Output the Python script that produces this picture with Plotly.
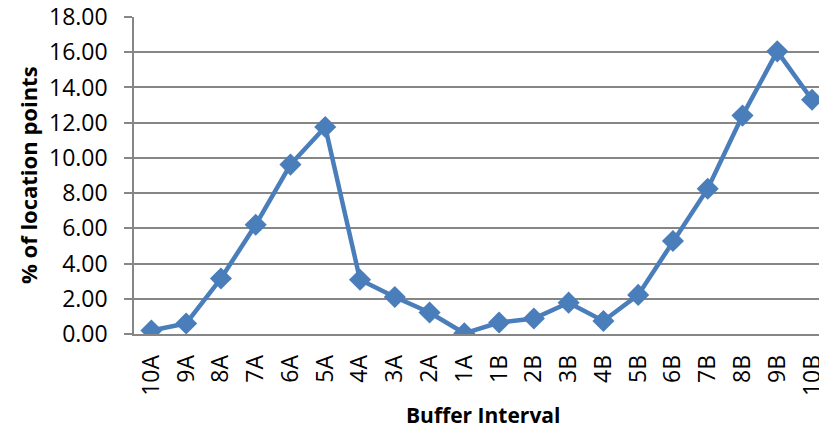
import plotly.graph_objects as go

categories = ["10A", "9A", "8A", "7A", "6A", "5A", "4A", "3A", "2A", "1A",
              "1B", "2B", "3B", "4B", "5B", "6B", "7B", "8B", "9B", "10B"]
values = [0.20, 0.60, 3.15, 6.20, 9.62, 11.75, 3.08, 2.10, 1.22, 0.04,
          0.65, 0.88, 1.78, 0.74, 2.22, 5.28, 8.25, 12.40, 16.05, 13.30]
y_ticks = [0, 2, 4, 6, 8, 10, 12, 14, 16, 18]

BLUE = "#4A7EBB"
GRID = "#868686"
FONT = "Open Sans"

fig = go.Figure()
fig.add_trace(go.Scatter(
    x=list(range(len(categories))), y=values, mode="lines+markers",
    line=dict(color=BLUE, width=4.5),
    marker=dict(symbol="diamond", size=17, color=BLUE),
    showlegend=False,
))

fig.update_layout(
    width=819, height=432,
    margin=dict(l=134, r=0, t=17, b=98),
    paper_bgcolor="white", plot_bgcolor="white",
    font=dict(family=FONT, size=23, color="black"),
    xaxis=dict(
        range=[-0.5, 19.2], tickmode="array",
        tickvals=list(range(len(categories))), ticktext=categories,
        tickangle=-90, showgrid=False, showline=True, linecolor=GRID,
        linewidth=1.5, ticks="", ticklabelstandoff=10, zeroline=False,
        ticklabeloverflow="allow", automargin=False,
    ),
    yaxis=dict(
        range=[0, 18], tickmode="array", tickvals=y_ticks,
        ticktext=[f"{v:.2f}" for v in y_ticks],
        showgrid=True, gridcolor=GRID, gridwidth=1.5,
        showline=True, linecolor=GRID, linewidth=1.5,
        ticks="outside", ticklen=8, tickcolor=GRID, tickwidth=1.5,
        ticklabelstandoff=12, zeroline=False, automargin=False,
    ),
    annotations=[
        dict(text="<b>Buffer Interval</b>", xref="paper", yref="paper",
             x=(483 - 134) / 685, y=-(415 - 334) / 317,
             xanchor="center", yanchor="middle", showarrow=False,
             font=dict(family=FONT, size=21)),
        dict(text="<b>% of location points</b>", xref="paper", yref="paper",
             x=(28 - 134) / 685, y=(334 - 175) / 317, textangle=-90,
             xanchor="center", yanchor="middle", showarrow=False,
             font=dict(family=FONT, size=22)),
    ],
)

fig.write_html("out.html")
